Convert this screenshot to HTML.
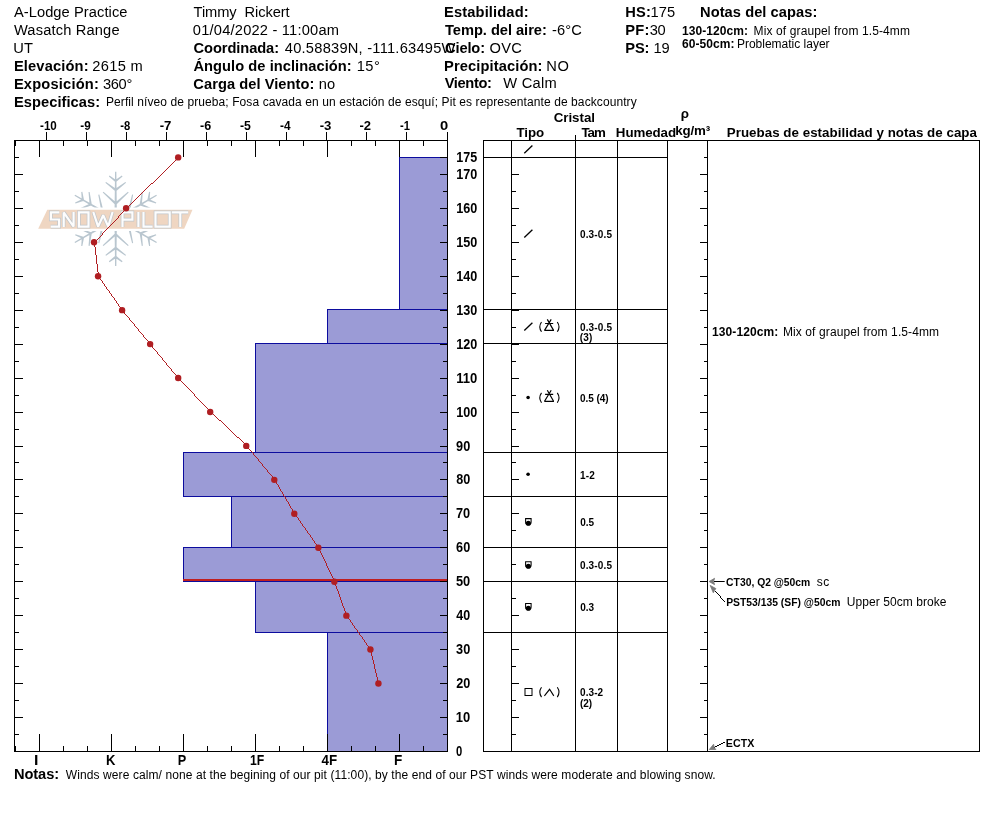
<!DOCTYPE html>
<html><head><meta charset="utf-8"><style>
html,body{margin:0;padding:0;background:#fff}
svg{display:block}
text{font-family:"Liberation Sans",sans-serif;white-space:pre}
</style></head><body>
<svg width="994" height="840" viewBox="0 0 994 840" shape-rendering="auto">
<rect width="994" height="840" fill="#fff"/>
<path d="M116.95,218.90L116.35,171.70L115.05,171.70L114.45,218.90ZM116.37,181.87L122.54,176.44L121.86,175.56L115.03,180.13ZM116.37,180.13L109.54,175.56L108.86,176.44L115.03,181.87ZM116.37,190.88L126.03,182.84L125.37,181.96L115.03,189.12ZM116.37,189.12L106.03,181.96L105.37,182.84L115.03,190.88ZM116.44,204.41L128.67,192.51L127.93,191.69L114.96,202.79ZM116.44,202.79L103.47,191.69L102.73,192.51L114.96,204.41ZM116.33,219.98L156.90,195.86L156.25,194.74L115.08,217.82ZM148.10,200.97L155.89,203.59L156.31,202.57L148.94,198.93ZM149.61,200.09L150.15,191.89L149.06,191.75L147.43,199.81ZM140.30,205.46L152.10,209.82L152.52,208.80L141.15,203.44ZM141.82,204.59L142.86,192.06L141.76,191.92L139.64,204.31ZM128.62,212.30L145.04,216.94L145.38,215.89L129.28,210.20ZM130.02,211.49L133.15,194.71L132.07,194.47L127.88,211.01ZM115.08,219.98L156.25,243.06L156.90,241.94L116.33,217.82ZM147.43,237.99L149.06,246.05L150.15,245.91L149.61,237.71ZM148.94,238.87L156.31,235.23L155.89,234.21L148.10,236.83ZM139.64,233.49L141.76,245.88L142.86,245.74L141.82,233.21ZM141.15,234.36L152.52,229.00L152.10,227.98L140.30,232.34ZM127.88,226.79L132.07,243.33L133.15,243.09L130.02,226.31ZM129.28,227.60L145.38,221.91L145.04,220.86L128.62,225.50ZM114.45,218.90L115.05,266.10L116.35,266.10L116.95,218.90ZM115.03,255.93L108.86,261.36L109.54,262.24L116.37,257.67ZM115.03,257.67L121.86,262.24L122.54,261.36L116.37,255.93ZM115.03,246.92L105.37,254.96L106.03,255.84L116.37,248.68ZM115.03,248.68L125.37,255.84L126.03,254.96L116.37,246.92ZM114.96,233.39L102.73,245.29L103.47,246.11L116.44,235.01ZM114.96,235.01L127.93,246.11L128.67,245.29L116.44,233.39ZM115.08,217.82L74.50,241.94L75.15,243.06L116.33,219.98ZM83.30,236.83L75.51,234.21L75.09,235.23L82.46,238.87ZM81.79,237.71L81.25,245.91L82.34,246.05L83.97,237.99ZM91.10,232.34L79.30,227.98L78.88,229.00L90.25,234.36ZM89.58,233.21L88.54,245.74L89.64,245.88L91.76,233.49ZM102.78,225.50L86.36,220.86L86.02,221.91L102.12,227.60ZM101.38,226.31L98.25,243.09L99.33,243.33L103.52,226.79ZM116.33,217.82L75.15,194.74L74.50,195.86L115.08,219.98ZM83.97,199.81L82.34,191.75L81.25,191.89L81.79,200.09ZM82.46,198.93L75.09,202.57L75.51,203.59L83.30,200.97ZM91.76,204.31L89.64,191.92L88.54,192.06L89.58,204.59ZM90.25,203.44L78.88,208.80L79.30,209.82L91.10,205.46ZM103.52,211.01L99.33,194.47L98.25,194.71L101.38,211.49ZM102.12,210.20L86.02,215.89L86.36,216.94L102.78,212.30Z" fill="#b9c6cf"/>
<path d="M47.3,209.8H192.5L184.2,228.8H38.2Z" fill="#fff" stroke="#fff" stroke-width="4.4" stroke-linejoin="round"/>
<path d="M47.3,209.8H192.5L184.2,228.8H38.2Z" fill="#efd6c2"/>
<path d="M59.3,212.4H50.9V219.5H59.1V226.6H50.7M63.7,227.1V212.4L73.6,226.6V211.9M78.9,212.4H88.5V226.6H78.9ZM93.3,212.0L98.1,226.6L103.2,215.2L108.2,226.6L112.6,212.0M122.5,227.1V212.4H132.4V219.6H122.8M138.4,211.9V227.1M143.5,211.9V226.6H152.6M155.5,212.4H169.7V226.6H155.5ZM171.8,212.4H188.2M180.3,212.4V227.1" stroke="#bfc5ca" stroke-width="3.6" fill="none" stroke-linejoin="miter" stroke-miterlimit="1.5"/>
<path d="M59.3,212.4H50.9V219.5H59.1V226.6H50.7M63.7,227.1V212.4L73.6,226.6V211.9M78.9,212.4H88.5V226.6H78.9ZM93.3,212.0L98.1,226.6L103.2,215.2L108.2,226.6L112.6,212.0M122.5,227.1V212.4H132.4V219.6H122.8M138.4,211.9V227.1M143.5,211.9V226.6H152.6M155.5,212.4H169.7V226.6H155.5ZM171.8,212.4H188.2M180.3,212.4V227.1" stroke="#fdfdfd" stroke-width="2.2" fill="none" stroke-linejoin="miter" stroke-miterlimit="1.5"/>
<rect x="399" y="157" width="48" height="153" fill="#9b9bd6"/>
<rect x="327" y="309" width="120" height="35" fill="#9b9bd6"/>
<rect x="255" y="343" width="192" height="110" fill="#9b9bd6"/>
<rect x="183" y="452" width="264" height="45" fill="#9b9bd6"/>
<rect x="231" y="496" width="216" height="52" fill="#9b9bd6"/>
<rect x="183" y="547" width="264" height="35" fill="#9b9bd6"/>
<rect x="255" y="581" width="192" height="52" fill="#9b9bd6"/>
<rect x="327" y="632" width="120" height="120" fill="#9b9bd6"/>
<rect x="399" y="157" width="48" height="1" fill="#0c0c9e"/>
<rect x="399" y="309" width="48" height="1" fill="#0c0c9e"/>
<rect x="399" y="157" width="1" height="153" fill="#0c0c9e"/>
<rect x="327" y="309" width="120" height="1" fill="#0c0c9e"/>
<rect x="327" y="343" width="120" height="1" fill="#0c0c9e"/>
<rect x="327" y="309" width="1" height="35" fill="#0c0c9e"/>
<rect x="255" y="343" width="192" height="1" fill="#0c0c9e"/>
<rect x="255" y="452" width="192" height="1" fill="#0c0c9e"/>
<rect x="255" y="343" width="1" height="110" fill="#0c0c9e"/>
<rect x="183" y="452" width="264" height="1" fill="#0c0c9e"/>
<rect x="183" y="496" width="264" height="1" fill="#0c0c9e"/>
<rect x="183" y="452" width="1" height="45" fill="#0c0c9e"/>
<rect x="231" y="496" width="216" height="1" fill="#0c0c9e"/>
<rect x="231" y="547" width="216" height="1" fill="#0c0c9e"/>
<rect x="231" y="496" width="1" height="52" fill="#0c0c9e"/>
<rect x="183" y="547" width="264" height="1" fill="#0c0c9e"/>
<rect x="183" y="581" width="264" height="1" fill="#0c0c9e"/>
<rect x="183" y="547" width="1" height="35" fill="#0c0c9e"/>
<rect x="255" y="581" width="192" height="1" fill="#0c0c9e"/>
<rect x="255" y="632" width="192" height="1" fill="#0c0c9e"/>
<rect x="255" y="581" width="1" height="52" fill="#0c0c9e"/>
<rect x="327" y="632" width="120" height="1" fill="#0c0c9e"/>
<rect x="327" y="751" width="120" height="1" fill="#0c0c9e"/>
<rect x="327" y="632" width="1" height="120" fill="#0c0c9e"/>
<rect x="183" y="579" width="264" height="2" fill="#c01e1e"/>
<rect x="14" y="140" width="434" height="1" fill="#000"/>
<rect x="14" y="751" width="434" height="1" fill="#000"/>
<rect x="14" y="140" width="1" height="612" fill="#000"/>
<rect x="447" y="132" width="1" height="620" fill="#000"/>
<rect x="46" y="132" width="1" height="8" fill="#000"/>
<rect x="86" y="132" width="1" height="8" fill="#000"/>
<rect x="126" y="132" width="1" height="8" fill="#000"/>
<rect x="166" y="132" width="1" height="8" fill="#000"/>
<rect x="206" y="132" width="1" height="8" fill="#000"/>
<rect x="246" y="132" width="1" height="8" fill="#000"/>
<rect x="286" y="132" width="1" height="8" fill="#000"/>
<rect x="326" y="132" width="1" height="8" fill="#000"/>
<rect x="366" y="132" width="1" height="8" fill="#000"/>
<rect x="406" y="132" width="1" height="8" fill="#000"/>
<rect x="447" y="132" width="1" height="8" fill="#000"/>
<rect x="15" y="140" width="1" height="6" fill="#000"/>
<rect x="15" y="746" width="1" height="5" fill="#000"/>
<rect x="39" y="140" width="1" height="17" fill="#000"/>
<rect x="39" y="734" width="1" height="17" fill="#000"/>
<rect x="63" y="140" width="1" height="6" fill="#000"/>
<rect x="63" y="746" width="1" height="5" fill="#000"/>
<rect x="87" y="140" width="1" height="6" fill="#000"/>
<rect x="87" y="746" width="1" height="5" fill="#000"/>
<rect x="111" y="140" width="1" height="17" fill="#000"/>
<rect x="111" y="734" width="1" height="17" fill="#000"/>
<rect x="135" y="140" width="1" height="6" fill="#000"/>
<rect x="135" y="746" width="1" height="5" fill="#000"/>
<rect x="159" y="140" width="1" height="6" fill="#000"/>
<rect x="159" y="746" width="1" height="5" fill="#000"/>
<rect x="183" y="140" width="1" height="17" fill="#000"/>
<rect x="183" y="734" width="1" height="17" fill="#000"/>
<rect x="207" y="140" width="1" height="6" fill="#000"/>
<rect x="207" y="746" width="1" height="5" fill="#000"/>
<rect x="231" y="140" width="1" height="6" fill="#000"/>
<rect x="231" y="746" width="1" height="5" fill="#000"/>
<rect x="255" y="140" width="1" height="17" fill="#000"/>
<rect x="255" y="734" width="1" height="17" fill="#000"/>
<rect x="279" y="140" width="1" height="6" fill="#000"/>
<rect x="279" y="746" width="1" height="5" fill="#000"/>
<rect x="303" y="140" width="1" height="6" fill="#000"/>
<rect x="303" y="746" width="1" height="5" fill="#000"/>
<rect x="327" y="140" width="1" height="17" fill="#000"/>
<rect x="327" y="734" width="1" height="17" fill="#000"/>
<rect x="351" y="140" width="1" height="6" fill="#000"/>
<rect x="351" y="746" width="1" height="5" fill="#000"/>
<rect x="375" y="140" width="1" height="6" fill="#000"/>
<rect x="375" y="746" width="1" height="5" fill="#000"/>
<rect x="399" y="140" width="1" height="17" fill="#000"/>
<rect x="399" y="734" width="1" height="17" fill="#000"/>
<rect x="423" y="140" width="1" height="6" fill="#000"/>
<rect x="423" y="746" width="1" height="5" fill="#000"/>
<rect x="14" y="734" width="5" height="1" fill="#000"/>
<rect x="443" y="734" width="4" height="1" fill="#000"/>
<rect x="14" y="717" width="9" height="1" fill="#000"/>
<rect x="440" y="717" width="7" height="1" fill="#000"/>
<rect x="14" y="700" width="5" height="1" fill="#000"/>
<rect x="443" y="700" width="4" height="1" fill="#000"/>
<rect x="14" y="683" width="9" height="1" fill="#000"/>
<rect x="440" y="683" width="7" height="1" fill="#000"/>
<rect x="14" y="666" width="5" height="1" fill="#000"/>
<rect x="443" y="666" width="4" height="1" fill="#000"/>
<rect x="14" y="649" width="9" height="1" fill="#000"/>
<rect x="440" y="649" width="7" height="1" fill="#000"/>
<rect x="14" y="632" width="5" height="1" fill="#000"/>
<rect x="443" y="632" width="4" height="1" fill="#000"/>
<rect x="14" y="615" width="9" height="1" fill="#000"/>
<rect x="440" y="615" width="7" height="1" fill="#000"/>
<rect x="14" y="598" width="5" height="1" fill="#000"/>
<rect x="443" y="598" width="4" height="1" fill="#000"/>
<rect x="14" y="581" width="9" height="1" fill="#000"/>
<rect x="440" y="581" width="7" height="1" fill="#000"/>
<rect x="14" y="564" width="5" height="1" fill="#000"/>
<rect x="443" y="564" width="4" height="1" fill="#000"/>
<rect x="14" y="547" width="9" height="1" fill="#000"/>
<rect x="440" y="547" width="7" height="1" fill="#000"/>
<rect x="14" y="530" width="5" height="1" fill="#000"/>
<rect x="443" y="530" width="4" height="1" fill="#000"/>
<rect x="14" y="513" width="9" height="1" fill="#000"/>
<rect x="440" y="513" width="7" height="1" fill="#000"/>
<rect x="14" y="496" width="5" height="1" fill="#000"/>
<rect x="443" y="496" width="4" height="1" fill="#000"/>
<rect x="14" y="479" width="9" height="1" fill="#000"/>
<rect x="440" y="479" width="7" height="1" fill="#000"/>
<rect x="14" y="462" width="5" height="1" fill="#000"/>
<rect x="443" y="462" width="4" height="1" fill="#000"/>
<rect x="14" y="446" width="9" height="1" fill="#000"/>
<rect x="440" y="446" width="7" height="1" fill="#000"/>
<rect x="14" y="429" width="5" height="1" fill="#000"/>
<rect x="443" y="429" width="4" height="1" fill="#000"/>
<rect x="14" y="412" width="9" height="1" fill="#000"/>
<rect x="440" y="412" width="7" height="1" fill="#000"/>
<rect x="14" y="395" width="5" height="1" fill="#000"/>
<rect x="443" y="395" width="4" height="1" fill="#000"/>
<rect x="14" y="378" width="9" height="1" fill="#000"/>
<rect x="440" y="378" width="7" height="1" fill="#000"/>
<rect x="14" y="361" width="5" height="1" fill="#000"/>
<rect x="443" y="361" width="4" height="1" fill="#000"/>
<rect x="14" y="344" width="9" height="1" fill="#000"/>
<rect x="440" y="344" width="7" height="1" fill="#000"/>
<rect x="14" y="327" width="5" height="1" fill="#000"/>
<rect x="443" y="327" width="4" height="1" fill="#000"/>
<rect x="14" y="310" width="9" height="1" fill="#000"/>
<rect x="440" y="310" width="7" height="1" fill="#000"/>
<rect x="14" y="293" width="5" height="1" fill="#000"/>
<rect x="443" y="293" width="4" height="1" fill="#000"/>
<rect x="14" y="276" width="9" height="1" fill="#000"/>
<rect x="440" y="276" width="7" height="1" fill="#000"/>
<rect x="14" y="259" width="5" height="1" fill="#000"/>
<rect x="443" y="259" width="4" height="1" fill="#000"/>
<rect x="14" y="242" width="9" height="1" fill="#000"/>
<rect x="440" y="242" width="7" height="1" fill="#000"/>
<rect x="14" y="225" width="5" height="1" fill="#000"/>
<rect x="443" y="225" width="4" height="1" fill="#000"/>
<rect x="14" y="208" width="9" height="1" fill="#000"/>
<rect x="440" y="208" width="7" height="1" fill="#000"/>
<rect x="14" y="191" width="5" height="1" fill="#000"/>
<rect x="443" y="191" width="4" height="1" fill="#000"/>
<rect x="14" y="174" width="9" height="1" fill="#000"/>
<rect x="440" y="174" width="7" height="1" fill="#000"/>
<rect x="14" y="157" width="5" height="1" fill="#000"/>
<rect x="443" y="157" width="4" height="1" fill="#000"/>
<rect x="440" y="157" width="7" height="1" fill="#000"/>
<path d="M178,157h1v1h-1zM177,158h1v1h-1zM176,159h1v1h-1zM175,160h1v1h-1zM174,161h1v1h-1zM173,162h1v1h-1zM172,163h1v1h-1zM171,164h1v1h-1zM170,165h1v1h-1zM169,166h1v1h-1zM168,167h1v1h-1zM167,168h1v1h-1zM166,169h1v1h-1zM165,170h1v1h-1zM164,171h1v1h-1zM163,172h1v1h-1zM162,173h1v1h-1zM161,174h1v1h-1zM160,175h1v1h-1zM159,176h1v1h-1zM158,177h1v1h-1zM157,178h1v1h-1zM156,179h1v1h-1zM155,180h1v1h-1zM154,181h1v1h-1zM153,182h1v1h-1zM152,183h1v1h-1zM151,183h1v1h-1zM150,184h1v1h-1zM149,185h1v1h-1zM148,186h1v1h-1zM147,187h1v1h-1zM146,188h1v1h-1zM145,189h1v1h-1zM144,190h1v1h-1zM143,191h1v1h-1zM142,192h1v1h-1zM141,193h1v1h-1zM140,194h1v1h-1zM139,195h1v1h-1zM138,196h1v1h-1zM137,197h1v1h-1zM136,198h1v1h-1zM135,199h1v1h-1zM134,200h1v1h-1zM133,201h1v1h-1zM132,202h1v1h-1zM131,203h1v1h-1zM130,204h1v1h-1zM129,205h1v1h-1zM128,206h1v1h-1zM127,207h1v1h-1zM126,208h1v1h-1z" fill="#b01e22"/>
<path d="M126,208h1v1h-1zM125,209h1v1h-1zM124,210h1v1h-1zM123,211h1v1h-1zM122,212h1v1h-1zM121,213h1v1h-1zM120,214h1v1h-1zM119,215h1v1h-1zM118,216h1v1h-1zM118,217h1v1h-1zM117,218h1v1h-1zM116,219h1v1h-1zM115,220h1v1h-1zM114,221h1v1h-1zM113,222h1v1h-1zM112,223h1v1h-1zM111,224h1v1h-1zM110,225h1v1h-1zM109,226h1v1h-1zM108,227h1v1h-1zM107,228h1v1h-1zM106,229h1v1h-1zM105,230h1v1h-1zM104,231h1v1h-1zM103,232h1v1h-1zM102,233h1v1h-1zM102,234h1v1h-1zM101,235h1v1h-1zM100,236h1v1h-1zM99,237h1v1h-1zM98,238h1v1h-1zM97,239h1v1h-1zM96,240h1v1h-1zM95,241h1v1h-1zM94,242h1v1h-1z" fill="#b01e22"/>
<path d="M94,242h1v1h-1zM94,243h1v1h-1zM94,244h1v1h-1zM94,245h1v1h-1zM94,246h1v1h-1zM95,247h1v1h-1zM95,248h1v1h-1zM95,249h1v1h-1zM95,250h1v1h-1zM95,251h1v1h-1zM95,252h1v1h-1zM95,253h1v1h-1zM95,254h1v1h-1zM96,255h1v1h-1zM96,256h1v1h-1zM96,257h1v1h-1zM96,258h1v1h-1zM96,259h1v1h-1zM96,260h1v1h-1zM96,261h1v1h-1zM96,262h1v1h-1zM96,263h1v1h-1zM97,264h1v1h-1zM97,265h1v1h-1zM97,266h1v1h-1zM97,267h1v1h-1zM97,268h1v1h-1zM97,269h1v1h-1zM97,270h1v1h-1zM97,271h1v1h-1zM98,272h1v1h-1zM98,273h1v1h-1zM98,274h1v1h-1zM98,275h1v1h-1zM98,276h1v1h-1z" fill="#b01e22"/>
<path d="M98,276h1v1h-1zM99,277h1v1h-1zM99,278h1v1h-1zM100,279h1v1h-1zM101,280h1v1h-1zM102,281h1v1h-1zM102,282h1v1h-1zM103,283h1v1h-1zM104,284h1v1h-1zM104,285h1v1h-1zM105,286h1v1h-1zM106,287h1v1h-1zM106,288h1v1h-1zM107,289h1v1h-1zM108,290h1v1h-1zM109,291h1v1h-1zM109,292h1v1h-1zM110,293h1v1h-1zM111,294h1v1h-1zM111,295h1v1h-1zM112,296h1v1h-1zM113,297h1v1h-1zM114,298h1v1h-1zM114,299h1v1h-1zM115,300h1v1h-1zM116,301h1v1h-1zM116,302h1v1h-1zM117,303h1v1h-1zM118,304h1v1h-1zM118,305h1v1h-1zM119,306h1v1h-1zM120,307h1v1h-1zM121,308h1v1h-1zM121,309h1v1h-1zM122,310h1v1h-1z" fill="#b01e22"/>
<path d="M122,310h1v1h-1zM123,311h1v1h-1zM124,312h1v1h-1zM124,313h1v1h-1zM125,314h1v1h-1zM126,315h1v1h-1zM127,316h1v1h-1zM128,317h1v1h-1zM129,318h1v1h-1zM129,319h1v1h-1zM130,320h1v1h-1zM131,321h1v1h-1zM132,322h1v1h-1zM133,323h1v1h-1zM134,324h1v1h-1zM134,325h1v1h-1zM135,326h1v1h-1zM136,327h1v1h-1zM137,328h1v1h-1zM138,329h1v1h-1zM138,330h1v1h-1zM139,331h1v1h-1zM140,332h1v1h-1zM141,333h1v1h-1zM142,334h1v1h-1zM143,335h1v1h-1zM143,336h1v1h-1zM144,337h1v1h-1zM145,338h1v1h-1zM146,339h1v1h-1zM147,340h1v1h-1zM148,341h1v1h-1zM148,342h1v1h-1zM149,343h1v1h-1zM150,344h1v1h-1z" fill="#b01e22"/>
<path d="M150,344h1v1h-1zM151,345h1v1h-1zM152,346h1v1h-1zM152,347h1v1h-1zM153,348h1v1h-1zM154,349h1v1h-1zM155,350h1v1h-1zM156,351h1v1h-1zM157,352h1v1h-1zM157,353h1v1h-1zM158,354h1v1h-1zM159,355h1v1h-1zM160,356h1v1h-1zM161,357h1v1h-1zM162,358h1v1h-1zM162,359h1v1h-1zM163,360h1v1h-1zM164,361h1v1h-1zM165,362h1v1h-1zM166,363h1v1h-1zM166,364h1v1h-1zM167,365h1v1h-1zM168,366h1v1h-1zM169,367h1v1h-1zM170,368h1v1h-1zM171,369h1v1h-1zM171,370h1v1h-1zM172,371h1v1h-1zM173,372h1v1h-1zM174,373h1v1h-1zM175,374h1v1h-1zM176,375h1v1h-1zM176,376h1v1h-1zM177,377h1v1h-1zM178,378h1v1h-1z" fill="#b01e22"/>
<path d="M178,378h1v1h-1zM179,379h1v1h-1zM180,380h1v1h-1zM181,381h1v1h-1zM182,382h1v1h-1zM183,383h1v1h-1zM184,384h1v1h-1zM185,385h1v1h-1zM186,386h1v1h-1zM187,387h1v1h-1zM188,388h1v1h-1zM189,389h1v1h-1zM190,390h1v1h-1zM191,391h1v1h-1zM192,392h1v1h-1zM193,393h1v1h-1zM194,394h1v1h-1zM194,395h1v1h-1zM195,396h1v1h-1zM196,397h1v1h-1zM197,398h1v1h-1zM198,399h1v1h-1zM199,400h1v1h-1zM200,401h1v1h-1zM201,402h1v1h-1zM202,403h1v1h-1zM203,404h1v1h-1zM204,405h1v1h-1zM205,406h1v1h-1zM206,407h1v1h-1zM207,408h1v1h-1zM208,409h1v1h-1zM209,410h1v1h-1zM210,411h1v1h-1z" fill="#b01e22"/>
<path d="M210,411h1v1h-1zM211,412h1v1h-1zM212,413h1v1h-1zM213,414h1v1h-1zM214,415h1v1h-1zM215,416h1v1h-1zM216,417h1v1h-1zM217,418h1v1h-1zM218,419h1v1h-1zM219,420h1v1h-1zM220,420h1v1h-1zM221,421h1v1h-1zM222,422h1v1h-1zM223,423h1v1h-1zM224,424h1v1h-1zM225,425h1v1h-1zM226,426h1v1h-1zM227,427h1v1h-1zM228,428h1v1h-1zM229,429h1v1h-1zM230,430h1v1h-1zM231,431h1v1h-1zM232,432h1v1h-1zM233,433h1v1h-1zM234,434h1v1h-1zM235,435h1v1h-1zM236,436h1v1h-1zM237,437h1v1h-1zM238,437h1v1h-1zM239,438h1v1h-1zM240,439h1v1h-1zM241,440h1v1h-1zM242,441h1v1h-1zM243,442h1v1h-1zM244,443h1v1h-1zM245,444h1v1h-1zM246,445h1v1h-1z" fill="#b01e22"/>
<path d="M246,445h1v1h-1zM247,446h1v1h-1zM248,447h1v1h-1zM248,448h1v1h-1zM249,449h1v1h-1zM250,450h1v1h-1zM251,451h1v1h-1zM252,452h1v1h-1zM253,453h1v1h-1zM253,454h1v1h-1zM254,455h1v1h-1zM255,456h1v1h-1zM256,457h1v1h-1zM257,458h1v1h-1zM258,459h1v1h-1zM258,460h1v1h-1zM259,461h1v1h-1zM260,462h1v1h-1zM261,463h1v1h-1zM262,464h1v1h-1zM262,465h1v1h-1zM263,466h1v1h-1zM264,467h1v1h-1zM265,468h1v1h-1zM266,469h1v1h-1zM267,470h1v1h-1zM267,471h1v1h-1zM268,472h1v1h-1zM269,473h1v1h-1zM270,474h1v1h-1zM271,475h1v1h-1zM272,476h1v1h-1zM272,477h1v1h-1zM273,478h1v1h-1zM274,479h1v1h-1z" fill="#b01e22"/>
<path d="M274,479h1v1h-1zM275,480h1v1h-1zM275,481h1v1h-1zM276,482h1v1h-1zM276,483h1v1h-1zM277,484h1v1h-1zM278,485h1v1h-1zM278,486h1v1h-1zM279,487h1v1h-1zM279,488h1v1h-1zM280,489h1v1h-1zM280,490h1v1h-1zM281,491h1v1h-1zM282,492h1v1h-1zM282,493h1v1h-1zM283,494h1v1h-1zM283,495h1v1h-1zM284,496h1v1h-1zM285,497h1v1h-1zM285,498h1v1h-1zM286,499h1v1h-1zM286,500h1v1h-1zM287,501h1v1h-1zM288,502h1v1h-1zM288,503h1v1h-1zM289,504h1v1h-1zM289,505h1v1h-1zM290,506h1v1h-1zM290,507h1v1h-1zM291,508h1v1h-1zM292,509h1v1h-1zM292,510h1v1h-1zM293,511h1v1h-1zM293,512h1v1h-1zM294,513h1v1h-1z" fill="#b01e22"/>
<path d="M294,513h1v1h-1zM295,514h1v1h-1zM295,515h1v1h-1zM296,516h1v1h-1zM297,517h1v1h-1zM298,518h1v1h-1zM298,519h1v1h-1zM299,520h1v1h-1zM300,521h1v1h-1zM300,522h1v1h-1zM301,523h1v1h-1zM302,524h1v1h-1zM302,525h1v1h-1zM303,526h1v1h-1zM304,527h1v1h-1zM305,528h1v1h-1zM305,529h1v1h-1zM306,530h1v1h-1zM307,531h1v1h-1zM307,532h1v1h-1zM308,533h1v1h-1zM309,534h1v1h-1zM310,535h1v1h-1zM310,536h1v1h-1zM311,537h1v1h-1zM312,538h1v1h-1zM312,539h1v1h-1zM313,540h1v1h-1zM314,541h1v1h-1zM314,542h1v1h-1zM315,543h1v1h-1zM316,544h1v1h-1zM317,545h1v1h-1zM317,546h1v1h-1zM318,547h1v1h-1z" fill="#b01e22"/>
<path d="M318,547h1v1h-1zM318,548h1v1h-1zM319,549h1v1h-1zM319,550h1v1h-1zM320,551h1v1h-1zM320,552h1v1h-1zM321,553h1v1h-1zM321,554h1v1h-1zM322,555h1v1h-1zM322,556h1v1h-1zM323,557h1v1h-1zM323,558h1v1h-1zM324,559h1v1h-1zM324,560h1v1h-1zM325,561h1v1h-1zM325,562h1v1h-1zM326,563h1v1h-1zM326,564h1v1h-1zM326,565h1v1h-1zM327,566h1v1h-1zM327,567h1v1h-1zM328,568h1v1h-1zM328,569h1v1h-1zM329,570h1v1h-1zM329,571h1v1h-1zM330,572h1v1h-1zM330,573h1v1h-1zM331,574h1v1h-1zM331,575h1v1h-1zM332,576h1v1h-1zM332,577h1v1h-1zM333,578h1v1h-1zM333,579h1v1h-1zM334,580h1v1h-1zM334,581h1v1h-1z" fill="#b01e22"/>
<path d="M334,581h1v1h-1zM334,582h1v1h-1zM335,583h1v1h-1zM335,584h1v1h-1zM335,585h1v1h-1zM336,586h1v1h-1zM336,587h1v1h-1zM336,588h1v1h-1zM337,589h1v1h-1zM337,590h1v1h-1zM338,591h1v1h-1zM338,592h1v1h-1zM338,593h1v1h-1zM339,594h1v1h-1zM339,595h1v1h-1zM339,596h1v1h-1zM340,597h1v1h-1zM340,598h1v1h-1zM340,599h1v1h-1zM341,600h1v1h-1zM341,601h1v1h-1zM341,602h1v1h-1zM342,603h1v1h-1zM342,604h1v1h-1zM342,605h1v1h-1zM343,606h1v1h-1zM343,607h1v1h-1zM344,608h1v1h-1zM344,609h1v1h-1zM344,610h1v1h-1zM345,611h1v1h-1zM345,612h1v1h-1zM345,613h1v1h-1zM346,614h1v1h-1zM346,615h1v1h-1z" fill="#b01e22"/>
<path d="M346,615h1v1h-1zM347,616h1v1h-1zM347,617h1v1h-1zM348,618h1v1h-1zM349,619h1v1h-1zM350,620h1v1h-1zM350,621h1v1h-1zM351,622h1v1h-1zM352,623h1v1h-1zM352,624h1v1h-1zM353,625h1v1h-1zM354,626h1v1h-1zM354,627h1v1h-1zM355,628h1v1h-1zM356,629h1v1h-1zM357,630h1v1h-1zM357,631h1v1h-1zM358,632h1v1h-1zM359,633h1v1h-1zM359,634h1v1h-1zM360,635h1v1h-1zM361,636h1v1h-1zM362,637h1v1h-1zM362,638h1v1h-1zM363,639h1v1h-1zM364,640h1v1h-1zM364,641h1v1h-1zM365,642h1v1h-1zM366,643h1v1h-1zM366,644h1v1h-1zM367,645h1v1h-1zM368,646h1v1h-1zM369,647h1v1h-1zM369,648h1v1h-1zM370,649h1v1h-1z" fill="#b01e22"/>
<path d="M370,649h1v1h-1zM370,650h1v1h-1zM370,651h1v1h-1zM371,652h1v1h-1zM371,653h1v1h-1zM371,654h1v1h-1zM371,655h1v1h-1zM372,656h1v1h-1zM372,657h1v1h-1zM372,658h1v1h-1zM372,659h1v1h-1zM373,660h1v1h-1zM373,661h1v1h-1zM373,662h1v1h-1zM373,663h1v1h-1zM374,664h1v1h-1zM374,665h1v1h-1zM374,666h1v1h-1zM374,667h1v1h-1zM374,668h1v1h-1zM375,669h1v1h-1zM375,670h1v1h-1zM375,671h1v1h-1zM375,672h1v1h-1zM376,673h1v1h-1zM376,674h1v1h-1zM376,675h1v1h-1zM376,676h1v1h-1zM377,677h1v1h-1zM377,678h1v1h-1zM377,679h1v1h-1zM377,680h1v1h-1zM378,681h1v1h-1zM378,682h1v1h-1zM378,683h1v1h-1z" fill="#b01e22"/>
<circle cx="178.17" cy="157.40" r="3.2" fill="#b01e22"/>
<circle cx="126.10" cy="208.31" r="3.2" fill="#b01e22"/>
<circle cx="94.06" cy="242.26" r="3.2" fill="#b01e22"/>
<circle cx="98.07" cy="276.20" r="3.2" fill="#b01e22"/>
<circle cx="122.10" cy="310.14" r="3.2" fill="#b01e22"/>
<circle cx="150.13" cy="344.09" r="3.2" fill="#b01e22"/>
<circle cx="178.17" cy="378.03" r="3.2" fill="#b01e22"/>
<circle cx="210.21" cy="411.97" r="3.2" fill="#b01e22"/>
<circle cx="246.25" cy="445.91" r="3.2" fill="#b01e22"/>
<circle cx="274.29" cy="479.86" r="3.2" fill="#b01e22"/>
<circle cx="294.31" cy="513.80" r="3.2" fill="#b01e22"/>
<circle cx="318.34" cy="547.74" r="3.2" fill="#b01e22"/>
<circle cx="334.36" cy="581.69" r="3.2" fill="#b01e22"/>
<circle cx="346.38" cy="615.63" r="3.2" fill="#b01e22"/>
<circle cx="370.41" cy="649.57" r="3.2" fill="#b01e22"/>
<circle cx="378.42" cy="683.51" r="3.2" fill="#b01e22"/>
<rect x="483" y="140" width="497" height="1" fill="#000"/>
<rect x="483" y="751" width="497" height="1" fill="#000"/>
<rect x="483" y="140" width="1" height="612" fill="#000"/>
<rect x="511" y="140" width="1" height="612" fill="#000"/>
<rect x="575" y="140" width="1" height="612" fill="#000"/>
<rect x="617" y="140" width="1" height="612" fill="#000"/>
<rect x="667" y="140" width="1" height="612" fill="#000"/>
<rect x="707" y="140" width="1" height="612" fill="#000"/>
<rect x="979" y="140" width="1" height="612" fill="#000"/>
<rect x="575" y="135" width="1" height="5" fill="#000"/>
<rect x="483" y="157" width="185" height="1" fill="#000"/>
<rect x="483" y="309" width="185" height="1" fill="#000"/>
<rect x="483" y="343" width="185" height="1" fill="#000"/>
<rect x="483" y="452" width="185" height="1" fill="#000"/>
<rect x="483" y="496" width="185" height="1" fill="#000"/>
<rect x="483" y="547" width="185" height="1" fill="#000"/>
<rect x="483" y="581" width="185" height="1" fill="#000"/>
<rect x="483" y="632" width="185" height="1" fill="#000"/>
<rect x="512" y="734" width="4" height="1" fill="#000"/>
<rect x="704" y="734" width="3" height="1" fill="#000"/>
<rect x="512" y="717" width="7" height="1" fill="#000"/>
<rect x="700" y="717" width="7" height="1" fill="#000"/>
<rect x="512" y="700" width="4" height="1" fill="#000"/>
<rect x="704" y="700" width="3" height="1" fill="#000"/>
<rect x="512" y="683" width="7" height="1" fill="#000"/>
<rect x="700" y="683" width="7" height="1" fill="#000"/>
<rect x="512" y="666" width="4" height="1" fill="#000"/>
<rect x="704" y="666" width="3" height="1" fill="#000"/>
<rect x="512" y="649" width="7" height="1" fill="#000"/>
<rect x="700" y="649" width="7" height="1" fill="#000"/>
<rect x="512" y="632" width="4" height="1" fill="#000"/>
<rect x="704" y="632" width="3" height="1" fill="#000"/>
<rect x="512" y="615" width="7" height="1" fill="#000"/>
<rect x="700" y="615" width="7" height="1" fill="#000"/>
<rect x="512" y="598" width="4" height="1" fill="#000"/>
<rect x="704" y="598" width="3" height="1" fill="#000"/>
<rect x="512" y="581" width="7" height="1" fill="#000"/>
<rect x="700" y="581" width="7" height="1" fill="#000"/>
<rect x="512" y="564" width="4" height="1" fill="#000"/>
<rect x="704" y="564" width="3" height="1" fill="#000"/>
<rect x="512" y="547" width="7" height="1" fill="#000"/>
<rect x="700" y="547" width="7" height="1" fill="#000"/>
<rect x="512" y="530" width="4" height="1" fill="#000"/>
<rect x="704" y="530" width="3" height="1" fill="#000"/>
<rect x="512" y="513" width="7" height="1" fill="#000"/>
<rect x="700" y="513" width="7" height="1" fill="#000"/>
<rect x="512" y="496" width="4" height="1" fill="#000"/>
<rect x="704" y="496" width="3" height="1" fill="#000"/>
<rect x="512" y="479" width="7" height="1" fill="#000"/>
<rect x="700" y="479" width="7" height="1" fill="#000"/>
<rect x="512" y="462" width="4" height="1" fill="#000"/>
<rect x="704" y="462" width="3" height="1" fill="#000"/>
<rect x="512" y="446" width="7" height="1" fill="#000"/>
<rect x="700" y="446" width="7" height="1" fill="#000"/>
<rect x="512" y="429" width="4" height="1" fill="#000"/>
<rect x="704" y="429" width="3" height="1" fill="#000"/>
<rect x="512" y="412" width="7" height="1" fill="#000"/>
<rect x="700" y="412" width="7" height="1" fill="#000"/>
<rect x="512" y="395" width="4" height="1" fill="#000"/>
<rect x="704" y="395" width="3" height="1" fill="#000"/>
<rect x="512" y="378" width="7" height="1" fill="#000"/>
<rect x="700" y="378" width="7" height="1" fill="#000"/>
<rect x="512" y="361" width="4" height="1" fill="#000"/>
<rect x="704" y="361" width="3" height="1" fill="#000"/>
<rect x="512" y="344" width="7" height="1" fill="#000"/>
<rect x="700" y="344" width="7" height="1" fill="#000"/>
<rect x="512" y="327" width="4" height="1" fill="#000"/>
<rect x="704" y="327" width="3" height="1" fill="#000"/>
<rect x="512" y="310" width="7" height="1" fill="#000"/>
<rect x="700" y="310" width="7" height="1" fill="#000"/>
<rect x="512" y="293" width="4" height="1" fill="#000"/>
<rect x="704" y="293" width="3" height="1" fill="#000"/>
<rect x="512" y="276" width="7" height="1" fill="#000"/>
<rect x="700" y="276" width="7" height="1" fill="#000"/>
<rect x="512" y="259" width="4" height="1" fill="#000"/>
<rect x="704" y="259" width="3" height="1" fill="#000"/>
<rect x="512" y="242" width="7" height="1" fill="#000"/>
<rect x="700" y="242" width="7" height="1" fill="#000"/>
<rect x="512" y="225" width="4" height="1" fill="#000"/>
<rect x="704" y="225" width="3" height="1" fill="#000"/>
<rect x="512" y="208" width="7" height="1" fill="#000"/>
<rect x="700" y="208" width="7" height="1" fill="#000"/>
<rect x="512" y="191" width="4" height="1" fill="#000"/>
<rect x="704" y="191" width="3" height="1" fill="#000"/>
<rect x="512" y="174" width="7" height="1" fill="#000"/>
<rect x="700" y="174" width="7" height="1" fill="#000"/>
<rect x="512" y="157" width="4" height="1" fill="#000"/>
<rect x="704" y="157" width="3" height="1" fill="#000"/>
<line x1="524.3" y1="153.25" x2="532.4" y2="145.55" stroke="#000" stroke-width="1.3"/>
<line x1="524.3" y1="237.50" x2="532.4" y2="229.80" stroke="#000" stroke-width="1.3"/>
<line x1="524.3" y1="330.50" x2="532.4" y2="322.80" stroke="#000" stroke-width="1.3"/>
<path d="M541.5,322.00Q538.1,326.90 541.5,331.80M557.3,322.00Q560.7,326.90 557.3,331.80" stroke="#000" stroke-width="1.1" fill="none"/>
<path d="M547.3,319.40L553.6,330.40M551.2,319.40L544.5,330.40M544.3,330.40H554.0M545.1,323.50H553.2" stroke="#000" stroke-width="1.2" fill="none"/>
<circle cx="528.1" cy="397.50" r="1.8" fill="#000"/>
<path d="M541.5,392.90Q538.1,397.80 541.5,402.70M557.3,392.90Q560.7,397.80 557.3,402.70" stroke="#000" stroke-width="1.1" fill="none"/>
<path d="M547.3,390.30L553.6,401.30M551.2,390.30L544.5,401.30M544.3,401.30H554.0M545.1,394.40H553.2" stroke="#000" stroke-width="1.2" fill="none"/>
<circle cx="528.1" cy="474.30" r="1.8" fill="#000"/>
<path d="M525.6,518.60H531.1V522.00A2.75,2.75 0 0 1 525.6,522.00Z" stroke="#000" stroke-width="1.05" fill="none"/>
<circle cx="528.35" cy="523.25" r="2.55" fill="#000"/>
<path d="M525.6,561.65H531.1V565.05A2.75,2.75 0 0 1 525.6,565.05Z" stroke="#000" stroke-width="1.05" fill="none"/>
<circle cx="528.35" cy="566.30" r="2.55" fill="#000"/>
<path d="M525.6,603.55H531.1V606.95A2.75,2.75 0 0 1 525.6,606.95Z" stroke="#000" stroke-width="1.05" fill="none"/>
<circle cx="528.35" cy="608.20" r="2.55" fill="#000"/>
<rect x="525" y="688.50" width="7" height="7" stroke="#000" stroke-width="1" fill="none"/>
<path d="M541.5,687.30Q538.1,692.20 541.5,697.10M557.3,687.30Q560.7,692.20 557.3,697.10" stroke="#000" stroke-width="1.1" fill="none"/>
<path d="M544.4,695.90L549.6,689.30L553.8,695.90" stroke="#000" stroke-width="1.1" fill="none"/>
<line x1="714" y1="581.5" x2="724.7" y2="581.5" stroke="#000" stroke-width="1"/>
<path d="M709.1,581.5L714.6,578.3L713.6,581.5L714.6,584.7Z" fill="#7a7a7a" stroke="#7a7a7a" stroke-width="0.8"/>
<path d="M715,591h1v1h-1zM716,592h1v1h-1zM717,593h1v1h-1zM718,594h1v1h-1zM719,595h1v1h-1zM720,596h1v1h-1zM720,597h1v1h-1zM721,598h1v1h-1zM722,599h1v1h-1zM723,600h1v1h-1zM724,601h1v1h-1z" fill="#000"/>
<path d="M710.2,585.4L715.9,588.6L714.6,590.4L713.3,592.8Z" fill="#7a7a7a" stroke="#7a7a7a" stroke-width="0.8"/>
<path d="M714,747h1v1h-1zM715,746h1v1h-1zM716,746h1v1h-1zM717,745h1v1h-1zM718,745h1v1h-1zM719,744h1v1h-1zM720,744h1v1h-1zM721,743h1v1h-1zM722,743h1v1h-1zM723,742h1v1h-1zM724,742h1v1h-1z" fill="#000"/>
<path d="M709.3,749.5L713.6,744.2L714.2,747.6L715.9,749.5Z" fill="#7a7a7a" stroke="#7a7a7a" stroke-width="0.8"/>
<g font-family="Liberation Sans, sans-serif" style="white-space:pre;filter:grayscale(1)">
<text x="13.88" y="16.80" font-size="14.67" letter-spacing="0.078">A-Lodge Practice</text>
<text x="13.91" y="34.80" font-size="14.67" letter-spacing="0.162">Wasatch Range</text>
<text x="13.27" y="52.70" font-size="14.67" letter-spacing="0.086">UT</text>
<text x="13.91" y="70.50" font-size="14.67" font-weight="bold" letter-spacing="0.149">Elevación:</text>
<text x="92.37" y="70.50" font-size="14.67" letter-spacing="0.275">2615 m</text>
<text x="13.91" y="88.50" font-size="14.67" font-weight="bold" letter-spacing="0.183">Exposición:</text>
<text x="102.96" y="88.50" font-size="14.67" letter-spacing="-0.329">360°</text>
<text x="13.91" y="106.50" font-size="14.67" font-weight="bold" letter-spacing="0.059">Especificas:</text>
<text x="106.01" y="106.40" font-size="12" letter-spacing="0.088">Perfil níveo de prueba; Fosa cavada en un estación de esquí; Pit es representante de backcountry</text>
<text x="193.62" y="16.80" font-size="14.67" letter-spacing="-0.089">Timmy  Rickert</text>
<text x="192.87" y="34.80" font-size="14.67" letter-spacing="0.198">01/04/2022 - 11:00am</text>
<text x="193.54" y="52.70" font-size="14.67" font-weight="bold" letter-spacing="-0.079">Coordinada:</text>
<text x="284.81" y="52.70" font-size="14.67" letter-spacing="0.234">40.58839N, -111.63495W</text>
<text x="193.42" y="70.50" font-size="14.67" font-weight="bold" letter-spacing="0.053">Ángulo de inclinación:</text>
<text x="356.67" y="70.50" font-size="14.67" letter-spacing="0.543">15°</text>
<text x="193.34" y="88.50" font-size="14.67" font-weight="bold" letter-spacing="0.044">Carga del Viento:</text>
<text x="318.81" y="88.50" font-size="14.67" letter-spacing="0.020">no</text>
<text x="444.11" y="16.60" font-size="14.67" font-weight="bold" letter-spacing="0.130">Estabilidad:</text>
<text x="445.06" y="34.50" font-size="14.67" font-weight="bold" letter-spacing="-0.044">Temp. del aire:</text>
<text x="552.04" y="34.50" font-size="14.67" letter-spacing="0.123">-6°C</text>
<text x="445.04" y="52.60" font-size="14.67" font-weight="bold" letter-spacing="-0.135">Cielo:</text>
<text x="489.58" y="52.60" font-size="14.67" letter-spacing="0.255">OVC</text>
<text x="444.11" y="70.50" font-size="14.67" font-weight="bold" letter-spacing="0.103">Precipitación:</text>
<text x="546.31" y="70.50" font-size="14.67" letter-spacing="0.596">NO</text>
<text x="444.65" y="88.30" font-size="14.67" font-weight="bold" letter-spacing="-0.350">Viento:</text>
<text x="503.31" y="88.30" font-size="14.67" letter-spacing="0.266">W Calm</text>
<text x="625.21" y="16.60" font-size="14.67" font-weight="bold" letter-spacing="0.163">HS:</text>
<text x="650.57" y="16.60" font-size="14.67" letter-spacing="0.083">175</text>
<text x="625.21" y="34.70" font-size="14.67" font-weight="bold" letter-spacing="0.326">PF:</text>
<text x="649.66" y="34.70" font-size="14.67" letter-spacing="-0.237">30</text>
<text x="625.21" y="52.50" font-size="14.67" font-weight="bold" letter-spacing="-0.081">PS:</text>
<text x="653.47" y="52.50" font-size="14.67">19</text>
<text x="700.01" y="16.60" font-size="14.67" font-weight="bold" letter-spacing="0.056">Notas del capas:</text>
<text x="682.05" y="34.90" font-size="12" font-weight="bold" letter-spacing="0.067">130-120cm:</text>
<text x="753.61" y="34.60" font-size="12" letter-spacing="0.115">Mix of graupel from 1.5-4mm</text>
<text x="681.90" y="47.70" font-size="12" font-weight="bold" letter-spacing="0.071">60-50cm:</text>
<text x="736.91" y="47.60" font-size="12">Problematic layer</text>
<text x="553.70" y="121.70" font-size="13.33" font-weight="bold" letter-spacing="-0.035">Cristal</text>
<text x="516.56" y="136.70" font-size="13.33" font-weight="bold" letter-spacing="-0.102">Tipo</text>
<text x="581.46" y="136.70" font-size="13.33" font-weight="bold" letter-spacing="-1.037">Tam</text>
<text x="615.87" y="136.80" font-size="13.33" font-weight="bold" letter-spacing="-0.092">Humedad</text>
<text x="675.15" y="134.80" font-size="13.33" font-weight="bold" letter-spacing="-0.099">kg/m³</text>
<text x="680.64" y="117.90" font-size="13.3" font-weight="bold">ρ</text>
<text x="726.77" y="136.90" font-size="13.33" font-weight="bold" letter-spacing="0.035">Pruebas de estabilidad y notas de capa</text>
<text x="13.91" y="778.90" font-size="14.67" font-weight="bold" letter-spacing="-0.069">Notas:</text>
<text x="65.86" y="778.70" font-size="12" letter-spacing="0.091">Winds were calm/ none at the begining of our pit (11:00), by the end of our PST winds were moderate and blowing snow.</text>
<text x="579.93" y="237.90" font-size="10" font-weight="bold" letter-spacing="0.167">0.3-0.5</text>
<text x="579.93" y="330.60" font-size="10" font-weight="bold" letter-spacing="0.167">0.3-0.5</text>
<text x="579.82" y="340.60" font-size="10" font-weight="bold" letter-spacing="0.101">(3)</text>
<text x="579.93" y="401.80" font-size="10" font-weight="bold" letter-spacing="-0.054">0.5 (4)</text>
<text x="580.04" y="478.90" font-size="10" font-weight="bold" letter-spacing="0.184">1-2</text>
<text x="580.23" y="525.70" font-size="10" font-weight="bold">0.5</text>
<text x="579.93" y="568.90" font-size="10" font-weight="bold" letter-spacing="0.167">0.3-0.5</text>
<text x="580.23" y="610.70" font-size="10" font-weight="bold">0.3</text>
<text x="580.03" y="695.60" font-size="10" font-weight="bold" letter-spacing="0.071">0.3-2</text>
<text x="579.92" y="706.50" font-size="10" font-weight="bold">(2)</text>
<text x="712.05" y="335.70" font-size="12" font-weight="bold" letter-spacing="0.078">130-120cm:</text>
<text x="782.91" y="335.60" font-size="12" letter-spacing="0.108">Mix of graupel from 1.5-4mm</text>
<text transform="translate(726.11,585.70) scale(0.9865,1)" x="0" y="0" font-size="10.5" font-weight="bold">CT30, Q2 @50cm</text>
<text x="816.79" y="585.60" font-size="12" letter-spacing="0.471">sc</text>
<text transform="translate(726.20,605.80) scale(0.9868,1)" x="0" y="0" font-size="10.5" font-weight="bold">PST53/135 (SF) @50cm</text>
<text x="846.75" y="605.70" font-size="12" letter-spacing="0.067">Upper 50cm broke</text>
<text transform="translate(725.87,746.60) scale(1.0166,1)" x="0" y="0" font-size="10.5" font-weight="bold">ECTX</text>
<text transform="translate(40.03,129.90) scale(0.9296,1)" x="0" y="0" font-size="12.5" font-weight="bold">-10</text>
<text transform="translate(80.23,129.90) scale(0.9369,1)" x="0" y="0" font-size="12.5" font-weight="bold">-9</text>
<text transform="translate(120.24,129.90) scale(0.8996,1)" x="0" y="0" font-size="12.5" font-weight="bold">-8</text>
<text transform="translate(159.66,129.90) scale(1.0576,1)" x="0" y="0" font-size="12.5" font-weight="bold">-7</text>
<text transform="translate(199.99,129.90) scale(1.0056,1)" x="0" y="0" font-size="12.5" font-weight="bold">-6</text>
<text transform="translate(240.00,129.90) scale(0.9840,1)" x="0" y="0" font-size="12.5" font-weight="bold">-5</text>
<text transform="translate(280.02,129.90) scale(0.9472,1)" x="0" y="0" font-size="12.5" font-weight="bold">-4</text>
<text transform="translate(319.67,129.90) scale(1.0544,1)" x="0" y="0" font-size="12.5" font-weight="bold">-3</text>
<text transform="translate(359.47,129.90) scale(1.0446,1)" x="0" y="0" font-size="12.5" font-weight="bold">-2</text>
<text transform="translate(400.05,129.90) scale(0.8956,1)" x="0" y="0" font-size="12.5" font-weight="bold">-1</text>
<text transform="translate(439.92,129.90) scale(1.1806,1)" x="0" y="0" font-size="12.5" font-weight="bold">0</text>
<text transform="translate(456.25,161.80) scale(0.9068,1)" x="0" y="0" font-size="13.8" font-weight="bold">175</text>
<text transform="translate(456.24,178.80) scale(0.9145,1)" x="0" y="0" font-size="13.8" font-weight="bold">170</text>
<text transform="translate(456.24,212.80) scale(0.9145,1)" x="0" y="0" font-size="13.8" font-weight="bold">160</text>
<text transform="translate(456.24,246.80) scale(0.9145,1)" x="0" y="0" font-size="13.8" font-weight="bold">150</text>
<text transform="translate(456.24,280.80) scale(0.9145,1)" x="0" y="0" font-size="13.8" font-weight="bold">140</text>
<text transform="translate(456.24,314.80) scale(0.9145,1)" x="0" y="0" font-size="13.8" font-weight="bold">130</text>
<text transform="translate(456.24,348.80) scale(0.9145,1)" x="0" y="0" font-size="13.8" font-weight="bold">120</text>
<text transform="translate(456.22,382.80) scale(0.9479,1)" x="0" y="0" font-size="13.8" font-weight="bold">110</text>
<text transform="translate(456.24,416.80) scale(0.9145,1)" x="0" y="0" font-size="13.8" font-weight="bold">100</text>
<text transform="translate(456.07,450.80) scale(0.9223,1)" x="0" y="0" font-size="13.8" font-weight="bold">90</text>
<text transform="translate(456.14,483.80) scale(0.9181,1)" x="0" y="0" font-size="13.8" font-weight="bold">80</text>
<text transform="translate(456.02,517.80) scale(0.9258,1)" x="0" y="0" font-size="13.8" font-weight="bold">70</text>
<text transform="translate(456.11,551.80) scale(0.9200,1)" x="0" y="0" font-size="13.8" font-weight="bold">60</text>
<text transform="translate(455.99,585.80) scale(0.9278,1)" x="0" y="0" font-size="13.8" font-weight="bold">50</text>
<text transform="translate(456.34,619.80) scale(0.9044,1)" x="0" y="0" font-size="13.8" font-weight="bold">40</text>
<text transform="translate(456.07,653.80) scale(0.9225,1)" x="0" y="0" font-size="13.8" font-weight="bold">30</text>
<text transform="translate(456.14,687.80) scale(0.9181,1)" x="0" y="0" font-size="13.8" font-weight="bold">20</text>
<text transform="translate(455.82,721.80) scale(0.9387,1)" x="0" y="0" font-size="13.8" font-weight="bold">10</text>
<text transform="translate(456.10,755.80) scale(0.8158,1)" x="0" y="0" font-size="13.8" font-weight="bold">0</text>
<text transform="translate(34.04,765.00) scale(1.1314,1)" x="0" y="0" font-size="14" font-weight="bold">I</text>
<text transform="translate(106.11,765.00) scale(0.9331,1)" x="0" y="0" font-size="14" font-weight="bold">K</text>
<text transform="translate(177.83,765.00) scale(0.9090,1)" x="0" y="0" font-size="14" font-weight="bold">P</text>
<text transform="translate(250.08,765.00) scale(0.8723,1)" x="0" y="0" font-size="14" font-weight="bold">1F</text>
<text transform="translate(321.53,765.00) scale(0.9564,1)" x="0" y="0" font-size="14" font-weight="bold">4F</text>
<text transform="translate(393.88,765.00) scale(0.9677,1)" x="0" y="0" font-size="14" font-weight="bold">F</text>
</g>
</svg></body></html>
